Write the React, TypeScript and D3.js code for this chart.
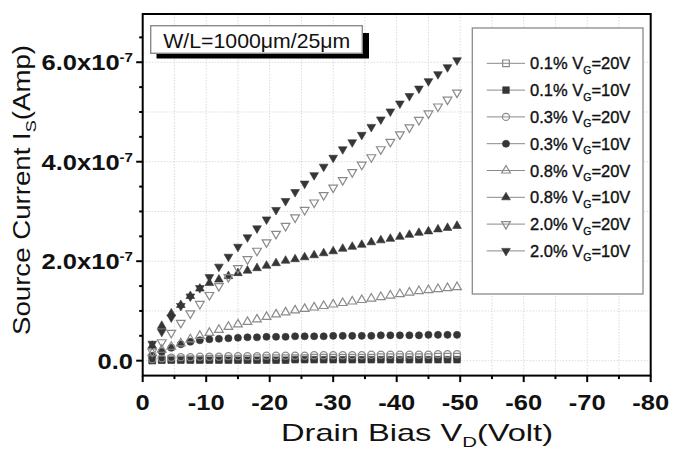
import React, { useEffect, useRef } from "react";
import * as d3 from "d3";

// drain bias (V), same for every curve
const vd = [-1.5, -3, -4.5, -6, -7.5, -9, -10.5, -12, -13.5, -15, -16.5,
  -18, -19.5, -21, -22.5, -24, -25.5, -27, -28.5, -30, -31.5, -33,
  -34.5, -36, -37.5, -39, -40.5, -42, -43.5, -45, -46.5, -48, -49.5];

// source current in units of 1e-7 A
const s01_20 = [0.02, 0.02, 0.03, 0.03, 0.03, 0.03, 0.04, 0.04, 0.04, 0.04, 0.04,
  0.05, 0.05, 0.05, 0.05, 0.05, 0.05, 0.06, 0.06, 0.06, 0.06, 0.06,
  0.06, 0.06, 0.07, 0.07, 0.07, 0.07, 0.07, 0.07, 0.08, 0.08, 0.08];
const s01_10 = [0.0, 0.01, 0.01, 0.01, 0.01, 0.01, 0.01, 0.01, 0.01, 0.01, 0.01,
  0.01, 0.01, 0.01, 0.01, 0.02, 0.02, 0.02, 0.02, 0.02, 0.02, 0.02,
  0.02, 0.02, 0.02, 0.02, 0.02, 0.02, 0.02, 0.02, 0.02, 0.02, 0.02];
const s03_20 = [0.03, 0.05, 0.06, 0.07, 0.07, 0.08, 0.08, 0.08, 0.09, 0.09, 0.09,
  0.09, 0.1, 0.1, 0.1, 0.1, 0.1, 0.11, 0.11, 0.11, 0.11, 0.11,
  0.11, 0.12, 0.12, 0.12, 0.12, 0.12, 0.12, 0.12, 0.13, 0.13, 0.13];
const s03_10 = [0.1, 0.18, 0.26, 0.33, 0.38, 0.41, 0.43, 0.44, 0.45, 0.46, 0.47,
  0.47, 0.48, 0.48, 0.48, 0.49, 0.49, 0.49, 0.49, 0.5, 0.5, 0.5,
  0.5, 0.5, 0.51, 0.51, 0.51, 0.51, 0.51, 0.52, 0.52, 0.52, 0.52];
const s08_20 = [0.15, 0.22, 0.28, 0.35, 0.43, 0.5, 0.56, 0.62, 0.68, 0.73, 0.78,
  0.83, 0.88, 0.93, 0.97, 1.01, 1.04, 1.07, 1.1, 1.13, 1.16, 1.19,
  1.22, 1.25, 1.28, 1.31, 1.34, 1.37, 1.4, 1.42, 1.44, 1.46, 1.48];
const s08_10 = [0.3, 0.7, 0.95, 1.12, 1.3, 1.45, 1.56, 1.63, 1.7, 1.76, 1.81,
  1.86, 1.91, 1.96, 2.01, 2.04, 2.08, 2.12, 2.16, 2.2, 2.25, 2.29,
  2.33, 2.38, 2.42, 2.45, 2.49, 2.53, 2.57, 2.6, 2.64, 2.67, 2.71];
const s20_20 = [0.18, 0.37, 0.56, 0.76, 0.95, 1.14, 1.32, 1.5, 1.68, 1.86, 2.04,
  2.21, 2.38, 2.55, 2.71, 2.88, 3.03, 3.18, 3.33, 3.48, 3.63, 3.79,
  3.94, 4.09, 4.25, 4.4, 4.55, 4.69, 4.84, 4.97, 5.11, 5.25, 5.39];
const s20_10 = [0.34, 0.58, 0.87, 1.1, 1.29, 1.46, 1.68, 1.89, 2.09, 2.29, 2.48,
  2.66, 2.84, 3.03, 3.21, 3.39, 3.56, 3.73, 3.9, 4.08, 4.25, 4.39,
  4.54, 4.7, 4.85, 5.01, 5.17, 5.32, 5.47, 5.62, 5.76, 5.9, 6.04];

const concentrations = ["0.1%", "0.1%", "0.3%", "0.3%", "0.8%", "0.8%", "2.0%", "2.0%"];
const gateBias = ["20V", "10V", "20V", "10V", "20V", "10V", "20V", "10V"];
const seriesData = [s01_20, s01_10, s03_20, s03_10, s08_20, s08_10, s20_20, s20_10];
const shapes = ["square", "square", "circle", "circle", "up", "up", "down", "down"];

const xTickValues = [0, -10, -20, -30, -40, -50, -60, -70, -80];
const xTickLabels = ["0", "-10", "-20", "-30", "-40", "-50", "-60", "-70", "-80"];
const yTickValues = [0, 2, 4, 6];
const yTickLabels = ["0.0", "2.0x10", "4.0x10", "6.0x10"];

const FONT = "'Liberation Sans', Arial, sans-serif";

function App() {
  const svgRef = useRef<SVGSVGElement>(null);

  useEffect(() => {
    const svg = d3.select(svgRef.current);
    svg.selectAll("*").remove();

    const x = d3.scaleLinear().domain([0, -80]).range([142.7, 650.7]);
    const y = d3.scaleLinear().domain([-0.3, 6.97]).range([375.6, 14]);
    const [x0, x1] = x.range();
    const [y0, y1] = y.range();

    // faint dotted grid
    const grid = svg.append("g").attr("stroke", "#d2d2d2").attr("stroke-width", 0.8)
      .attr("stroke-dasharray", "1.5,1.5");
    x.ticks(16).filter(t => t !== 0 && t !== -80).forEach(t => {
      grid.append("line").attr("x1", x(t)).attr("x2", x(t)).attr("y1", y1).attr("y2", y0);
    });
    y.ticks(7).forEach(t => {
      grid.append("line").attr("x1", x0).attr("x2", x1).attr("y1", y(t)).attr("y2", y(t));
    });

    // marker path for each shape
    const symbolPath = (shape: string) => {
      if (shape === "square") return d3.symbol().type(d3.symbolSquare).size(44)()!;
      if (shape === "circle") return d3.symbol().type(d3.symbolCircle).size(40)()!;
      return d3.symbol().type(d3.symbolTriangle).size(33)()!;
    };
    const drawMarker = (g: any, shape: string, filled: boolean, px: number, py: number) => {
      g.append("path")
        .attr("d", symbolPath(shape))
        .attr("transform", `translate(${px},${py})${shape === "down" ? " rotate(180)" : ""}`)
        .attr("fill", filled ? "#363636" : "none")
        .attr("stroke", filled ? "#363636" : "#8a8a8a")
        .attr("stroke-width", filled ? 0.6 : 1.2);
    };

    // data points
    const pts = svg.append("g");
    seriesData.forEach((vals, i) => {
      const filled = gateBias[i] === "10V";
      vals.forEach((v, j) => drawMarker(pts, shapes[i], filled, x(vd[j]), y(v)));
    });

    // frame
    svg.append("rect").attr("x", x0).attr("y", y1).attr("width", x1 - x0).attr("height", y0 - y1)
      .attr("fill", "none").attr("stroke", "#000").attr("stroke-width", 2);

    // bottom ticks and labels
    const ax = svg.append("g").attr("stroke", "#000").attr("stroke-width", 2);
    x.ticks(16).forEach(t => {
      const major = t % 10 === 0;
      ax.append("line").attr("x1", x(t)).attr("x2", x(t)).attr("y1", y0).attr("y2", y0 + (major ? 6.5 : 3.5));
    });
    y.ticks(14).forEach(t => {
      const major = t % 2 === 0;
      ax.append("line").attr("x1", x0).attr("x2", x0 - (major ? 6.5 : 3.5)).attr("y1", y(t)).attr("y2", y(t));
    });

    xTickValues.forEach((t, i) => {
      svg.append("text")
        .attr("transform", `translate(${x(t)},410) scale(1.16,1)`)
        .attr("text-anchor", "middle").attr("font-family", FONT).attr("font-weight", "bold")
        .attr("font-size", 22).attr("fill", "#111").text(xTickLabels[i]);
    });
    yTickValues.forEach((t, i) => {
      const tx = svg.append("text")
        .attr("transform", `translate(133,${y(t) + 8}) scale(1.16,1)`)
        .attr("text-anchor", "end").attr("font-family", FONT).attr("font-weight", "bold")
        .attr("font-size", 22).attr("fill", "#111");
      tx.append("tspan").text(yTickLabels[i]);
      if (t !== 0) tx.append("tspan").attr("font-size", 13).attr("dy", -8).text("-7");
    });

    // axis titles
    const xt = svg.append("text")
      .attr("x", 417).attr("y", 441).attr("text-anchor", "middle")
      .attr("font-family", FONT).attr("font-size", 24).attr("fill", "#111")
      .attr("textLength", 272).attr("lengthAdjust", "spacingAndGlyphs");
    xt.append("tspan").text("Drain Bias V");
    xt.append("tspan").attr("font-size", 15).attr("dy", 6).text("D");
    xt.append("tspan").attr("dy", -6).text("(Volt)");

    const yt = svg.append("text")
      .attr("transform", "translate(30,190) rotate(-90)").attr("text-anchor", "middle")
      .attr("font-family", FONT).attr("font-size", 23).attr("fill", "#111")
      .attr("textLength", 290).attr("lengthAdjust", "spacingAndGlyphs");
    yt.append("tspan").text("Source Current I");
    yt.append("tspan").attr("font-size", 15).attr("dy", 6).text("S");
    yt.append("tspan").attr("dy", -6).text("(Amp)");

    // W/L annotation box with drop shadow
    svg.append("rect").attr("x", 156.5).attr("y", 33).attr("width", 212.5).attr("height", 25.5).attr("fill", "#000");
    svg.append("rect").attr("x", 150.7).attr("y", 25.7).attr("width", 211.6).attr("height", 27.6)
      .attr("fill", "#fff").attr("stroke", "#8a8a8a").attr("stroke-width", 1.4);
    svg.append("text").attr("x", 163.3).attr("y", 48.3)
      .attr("font-family", FONT).attr("font-size", 21).attr("fill", "#111")
      .attr("textLength", 187).attr("lengthAdjust", "spacingAndGlyphs")
      .text("W/L=1000\u03bcm/25\u03bcm");

    // legend
    const lg = svg.append("g");
    lg.append("rect").attr("x", 472.3).attr("y", 28).attr("width", 170.7).attr("height", 266)
      .attr("fill", "#fff").attr("stroke", "#8a8a8a").attr("stroke-width", 1.3);
    seriesData.forEach((_, i) => {
      const ly = 63.3 + i * 26.8;
      const filled = gateBias[i] === "10V";
      lg.append("line").attr("x1", 486.7).attr("x2", 525).attr("y1", ly).attr("y2", ly)
        .attr("stroke", "#8a8a8a").attr("stroke-width", 1);
      drawMarker(lg, shapes[i], filled, 506, ly);
      const t = lg.append("text").attr("x", 530).attr("y", ly + 6)
        .attr("font-family", FONT).attr("font-size", 16.5).attr("fill", "#111")
        .attr("stroke", "#111").attr("stroke-width", 0.35);
      t.append("tspan").text(`${concentrations[i]} V`);
      t.append("tspan").attr("font-size", 10.5).attr("dy", 4.5).text("G");
      t.append("tspan").attr("dy", -4.5).text(`=${gateBias[i]}`);
    });
  }, []);

  return (
    <svg ref={svgRef} width={673} height={452}
      style={{ position: "absolute", left: 0, top: 0, background: "#fff" }} />
  );
}

export default App;
